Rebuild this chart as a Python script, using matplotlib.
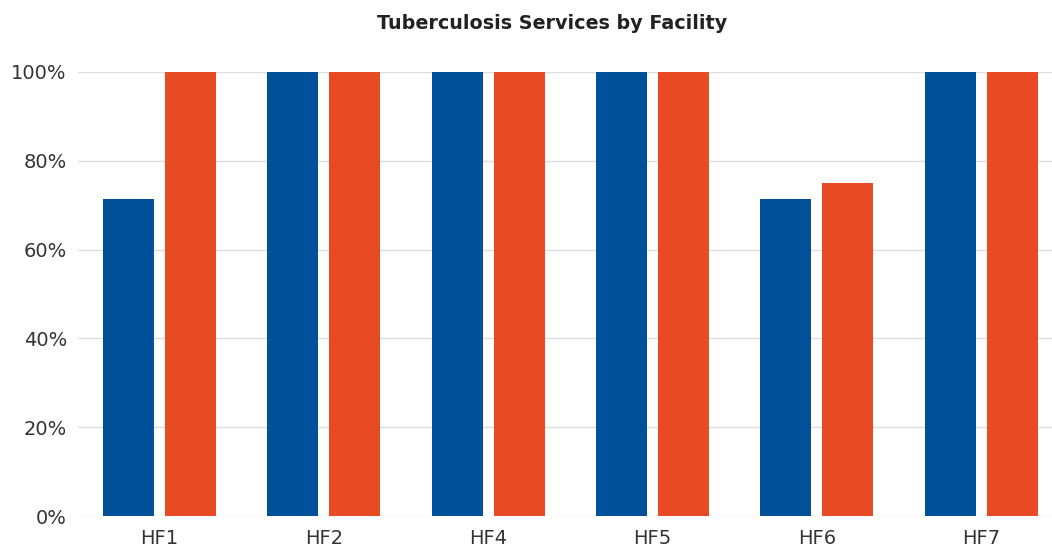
import matplotlib
matplotlib.use('Agg')
import matplotlib.pyplot as plt
import numpy as np

plt.rcParams['font.family'] = ['DejaVu Sans']

facilities = ['HF1', 'HF2', 'HF4', 'HF5', 'HF6', 'HF7']
blue_vals = [71.4, 100, 100, 100, 71.4, 100]
orange_vals = [100, 100, 100, 100, 75, 100]

blue = '#00509a'
orange = '#e84b23'

fig = plt.figure(figsize=(10.52, 5.5), dpi=100)
ax = fig.add_axes([0.0741, 0.0618, 0.9259, 0.8073])

x = np.arange(len(facilities))
w = 0.31
off = 0.1885
ax.bar(x - off, blue_vals, width=w, color=blue, zorder=3)
ax.bar(x + off, orange_vals, width=w, color=orange, zorder=3)

ax.set_ylim(0, 100)
ax.set_xlim(-0.496, 5.43)
ax.set_yticks(range(0, 101, 20))
ax.set_yticklabels([str(v) + '%' for v in range(0, 101, 20)])
ax.set_xticks(x)
ax.set_xticklabels(facilities)
ax.grid(axis='y', color='#dddddd', linewidth=1, zorder=0)
ax.set_axisbelow(True)
for s in ax.spines.values():
    s.set_visible(False)
ax.tick_params(axis='both', length=0, colors='#333333')
ax.tick_params(axis='y', labelsize=14, pad=8)
ax.tick_params(axis='x', labelsize=14, pad=9)

fig.text(0.525, 0.958, 'Tuberculosis Services by Facility', ha='center', va='center',
         fontsize=13.8, fontweight='bold', color='#222222')

fig.savefig('out.png', dpi=100)
